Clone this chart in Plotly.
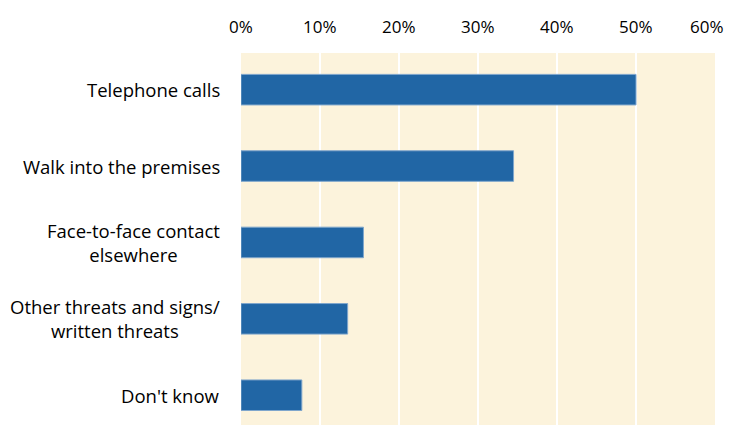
import plotly.graph_objects as go

categories = ["Telephone calls", "Walk into the premises", "Face-to-face contact<br>elsewhere",
              "Other threats and signs/<br>written threats", "Don't know"]
shares = [0.50, 0.345, 0.155, 0.135, 0.077]
tick_vals = [0, 0.1, 0.2, 0.3, 0.4, 0.5, 0.6]
tick_text = ["0%", "10%", "20%", "30%", "40%", "50%", "60%"]

font_family = "'Open Sans', sans-serif"

fig = go.Figure()

fig.add_trace(go.Bar(
    x=shares,
    y=list(range(len(categories))),
    orientation="h",
    width=0.40,
    marker=dict(color="#2166a5", line=dict(color="#7fa6cc", width=1)),
    hoverinfo="x",
))

# centred multi-line category labels
for i, label in enumerate(categories):
    fig.add_annotation(
        x=0, y=i, xref="paper", yref="y",
        text=label, showarrow=False,
        xanchor="right", yanchor="middle", align="center",
        xshift=-19,
        font=dict(family=font_family, size=18.5, color="#000000"),
    )

# top tick labels as annotations; the last one is pulled in so it stays in the window
for val, txt in zip(tick_vals, tick_text):
    last = val == tick_vals[-1]
    fig.add_annotation(
        x=val, y=1, xref="x", yref="paper",
        text=txt, showarrow=False,
        xanchor="right" if last else "center", yanchor="middle",
        xshift=11 if last else 0,
        yshift=27,
        font=dict(family=font_family, size=17, color="#000000"),
    )

# page body adds an 8px offset; the figure is shifted accordingly
fig.update_layout(
    width=734,
    height=426,
    margin=dict(l=233, r=27, t=45, b=9),
    plot_bgcolor="#fcf3dc",
    paper_bgcolor="white",
    showlegend=False,
    xaxis=dict(
        range=[0, 0.6],
        tickvals=tick_vals,
        showticklabels=False,
        showgrid=True,
        gridcolor="white",
        gridwidth=2,
        zeroline=False,
        showline=False,
    ),
    yaxis=dict(
        range=[4.39, -0.48],
        showticklabels=False,
        showgrid=False,
        zeroline=False,
        showline=False,
    ),
)

fig.write_html("out.html")
